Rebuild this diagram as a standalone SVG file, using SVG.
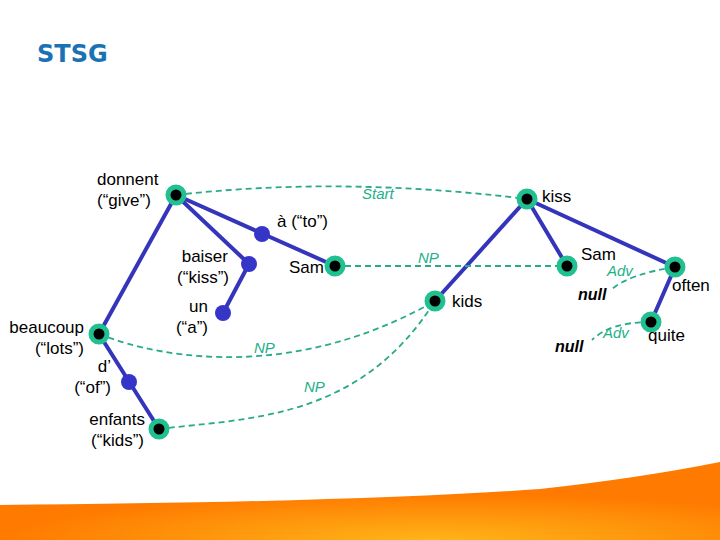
<svg xmlns="http://www.w3.org/2000/svg" width="720" height="540" viewBox="0 0 720 540">
<defs>
<radialGradient id="og" cx="0.6" cy="1" r="0.6">
<stop offset="0" stop-color="#ffb418"/>
<stop offset="1" stop-color="#ff7a00"/>
</radialGradient>
<style>
text{font-family:"Liberation Sans",Arial,sans-serif;font-size:17px;fill:#000}
.t{font-family:"DejaVu Sans",Verdana,sans-serif;font-weight:bold;font-size:24px;fill:#1a72b4}
.g{font-style:italic;font-size:15px;fill:#22b08a}
.n{font-style:italic;font-weight:bold;font-size:16px}
.e{stroke:#3535bb;stroke-width:4;fill:none;stroke-linecap:round}
.d{stroke:#2aaa8a;stroke-width:1.8;fill:none;stroke-dasharray:6,4}
.ring{fill:#000;stroke:#20c090;stroke-width:5}
.dot{fill:#3535c8}
</style>
</defs>
<rect width="720" height="540" fill="#fff"/>
<path d="M0,505 Q360,502 540,489 Q640,478 720,462 L720,540 L0,540 Z" fill="url(#og)"/>
<text class="t" x="37" y="62">STSG</text>
<g id="connectors">
<path class="e" d="M176,195 L99,334"/>
<path class="e" d="M176,195 L249,264"/>
<path class="e" d="M176,195 L335,266"/>
<path class="e" d="M249,264 L223,313"/>
<path class="e" d="M99,334 L159,429"/>
<path class="e" d="M527,199 L435,301"/>
<path class="e" d="M527,199 L567,266"/>
<path class="e" d="M527,199 L675,267"/>
<path class="e" d="M675,267 L651,322"/>
<path class="d" d="M176,195 Q340,176 527,199"/>
<path class="d" d="M335,266 L567,266"/>
<path class="d" d="M99,334 C170,362 300,378 435,301"/>
<path class="d" d="M159,429 C250,418 360,420 435,301"/>
<path class="d" d="M675,267 Q630,274 612,289"/>
<path class="d" d="M651,322 Q610,322 592,340"/>
<text class="g" x="362" y="199">Start</text>
<text class="g" x="418" y="263">NP</text>
<text class="g" x="254" y="353">NP</text>
<text class="g" x="304" y="392">NP</text>
<text class="g" x="607" y="276">Adv</text>
<text class="g" x="603" y="338">Adv</text>
</g>
<g id="donnent"><circle class="ring" cx="176" cy="195" r="8"/><text x="97" y="185">donnent</text><text x="97" y="206">(“give”)</text></g>
<g id="a"><circle class="dot" cx="262" cy="234" r="8"/><text x="277" y="227">à (“to”)</text></g>
<g id="baiser"><circle class="dot" cx="249" cy="264" r="8"/><text x="228" y="262" text-anchor="end">baiser</text><text x="229" y="283" text-anchor="end">(“kiss”)</text></g>
<g id="un"><circle class="dot" cx="223" cy="313" r="8"/><text x="208" y="312" text-anchor="end">un</text><text x="208" y="333" text-anchor="end">(“a”)</text></g>
<g id="sam-fr"><circle class="ring" cx="335" cy="266" r="8"/><text x="324" y="273" text-anchor="end">Sam</text></g>
<g id="beaucoup"><circle class="ring" cx="99" cy="334" r="8"/><text x="84" y="333" text-anchor="end">beaucoup</text><text x="84" y="354" text-anchor="end">(“lots”)</text></g>
<g id="d"><circle class="dot" cx="129" cy="382" r="8"/><text x="111" y="372" text-anchor="end">d’</text><text x="111" y="393" text-anchor="end">(“of”)</text></g>
<g id="enfants"><circle class="ring" cx="159" cy="429" r="8"/><text x="145" y="425" text-anchor="end">enfants</text><text x="144" y="446" text-anchor="end">(“kids”)</text></g>
<g id="kiss"><circle class="ring" cx="527" cy="199" r="8"/><text x="542" y="202">kiss</text></g>
<g id="sam-en"><circle class="ring" cx="567" cy="266" r="8"/><text x="581" y="260">Sam</text></g>
<g id="often"><circle class="ring" cx="675" cy="267" r="8"/><text x="672" y="291">often</text></g>
<g id="kids"><circle class="ring" cx="435" cy="301" r="8"/><text x="452" y="307">kids</text></g>
<g id="quite"><circle class="ring" cx="651" cy="322" r="8"/><text x="648" y="341">quite</text></g>
<g id="null1"><text class="n" x="578" y="300">null</text></g>
<g id="null2"><text class="n" x="555" y="352">null</text></g>
</svg>
